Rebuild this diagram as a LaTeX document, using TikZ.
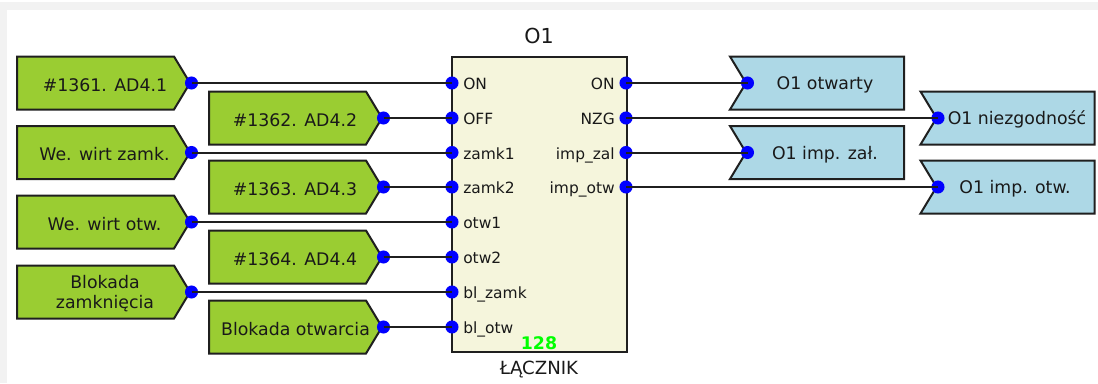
\documentclass[tikz,border=0pt]{standalone}
\usepackage{fontspec}
\setmainfont{DejaVu Sans}
\colorlet{wirecol}{black!88}
\definecolor{ingreen}{HTML}{9ACD32}
\definecolor{outblue}{HTML}{ADD8E6}
\definecolor{blockbg}{HTML}{F5F5DC}
\definecolor{chrome}{HTML}{F2F2F2}
\definecolor{lime}{HTML}{00FF00}
\tikzset{
  x=0.75pt,y=-0.75pt,
  wire/.style={draw=wirecol,line width=1.5pt},
  outline/.style={draw=wirecol,line width=1.5pt,line join=miter},
  port/.style={circle,fill=blue,inner sep=0pt,minimum size=9.8pt},
  lab/.style={inner sep=0pt,align=center,font=\fontsize{13pt}{14.6pt}\selectfont,text=black!90},
  plab/.style={inner sep=0pt,font=\fontsize{11.6pt}{14pt}\selectfont,text=black!90},
}
% \inbox{name}{left x}{centre y}{label x}{text}
\newcommand{\inbox}[5]{%
  \path[outline,fill=ingreen] (#2,#3-26.5) -- ++(157,0) -- ++(16,26.5) -- ++(-16,26.5) -- ++(-157,0) -- cycle;
  \node[lab] (#1) at (#4,#3+1.8) {#5};
  \node[port] (#1p) at (#2+174.5,#3) {};
}
% \outbox{name}{left x}{centre y}{label x}{text}
\newcommand{\outbox}[5]{%
  \path[outline,fill=outblue] (#2,#3-26.5) -- ++(174,0) -- ++(0,53) -- ++(-174,0) -- ++(16,-26.5) -- cycle;
  \node[lab] (#1) at (#4,#3+1.8) {#5};
  \node[port] (#1p) at (#2+17.5,#3) {};
}
\begin{document}
\begin{tikzpicture}
\useasboundingbox (0,0) rectangle (1098,383);
% window chrome
\fill[chrome] (0,2) rectangle (1098,10);
\fill[chrome] (0,2) rectangle (7,383);
% block
\path[outline,fill=blockbg] (452,57) rectangle (627,352);
\node[font=\fontsize{15.5pt}{18pt}\selectfont,inner sep=0pt,text=black!90] (title) at (539,36) {O1};
\node[font=\fontsize{13.6pt}{16pt}\selectfont,inner sep=0pt,text=black!90] (kind) at (539,369.5) {ŁĄCZNIK};
\node[font=\bfseries\fontsize{13pt}{16pt}\selectfont,inner sep=0pt,text=lime] (num) at (539,343) {128};
% inputs
\inbox{a}{17}{83}{105}{\#1361. AD4.1}
\inbox{b}{209}{118}{295}{\#1362. AD4.2}
\inbox{c}{17}{152.5}{104.5}{We. wirt zamk.}
\inbox{d}{209}{187}{295}{\#1363. AD4.3}
\inbox{e}{17}{222}{104.5}{We. wirt otw.}
\inbox{f}{209}{257}{295}{\#1364. AD4.4}
\inbox{g}{17}{292}{105}{Blokada\\zamknięcia}
\inbox{h}{209}{327}{295.5}{Blokada otwarcia}
% outputs
\outbox{s}{730}{83}{825}{O1 otwarty}
\outbox{t}{920.5}{118}{1017}{O1 niezgodność}
\outbox{u}{730}{152.5}{825}{O1 imp. zał.}
\outbox{v}{920.5}{187}{1015}{O1 imp. otw.}
% block ports
\foreach \n/\y/\t in {ia/83/ON,ib/118/OFF,ic/152.5/zamk1,id/187/zamk2,ie/222/otw1,if/257/otw2,ig/292/bl\_zamk,ih/327/bl\_otw}{
  \node[port] (\n) at (452,\y) {};
  \node[plab,anchor=base west] (\n t) at (463,\y+6.5) {\t};
}
\foreach \n/\y/\t in {os/83/ON,ot/118/NZG,ou/152.5/imp\_zal,ov/187/imp\_otw}{
  \node[port] (\n) at (626,\y) {};
  \node[plab,anchor=base east] (\n t) at (615,\y+6.5) {\t};
}
% connectors
\foreach \p/\q in {ap/ia,bp/ib,cp/ic,dp/id,ep/ie,fp/if,gp/ig,hp/ih,os/sp,ot/tp,ou/up,ov/vp}{
  \draw[wire] (\p.center) -- (\q.center);
}
\end{tikzpicture}
\end{document}
